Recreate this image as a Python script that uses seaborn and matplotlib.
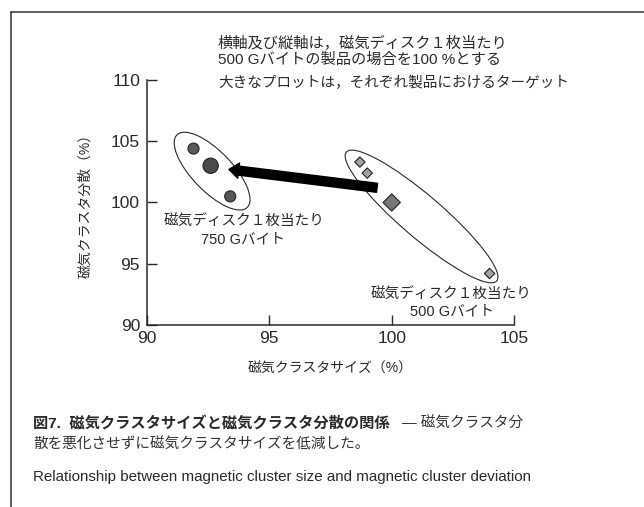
import matplotlib
matplotlib.use('Agg')
import matplotlib.pyplot as plt
import seaborn as sns
import pandas as pd
from matplotlib.patches import Ellipse
from matplotlib.transforms import IdentityTransform
from matplotlib.lines import Line2D

# ---- データ----
size_750 = [91.9, 92.6, 93.4]          # 磁気クラスタサイズ (%)
disp_750 = [104.4, 103.0, 100.5]       # 磁気クラスタ分散 (%)
target_750 = [False, True, False]

size_500 = [98.7, 99.0, 100.0, 104.0]
disp_500 = [103.3, 102.4, 100.0, 94.2]
target_500 = [False, False, True, False]

x_ticks = [90, 95, 100, 105]
y_ticks = [90, 95, 100, 105, 110]

kinds = (['750_t' if t else '750' for t in target_750] +
         ['500_t' if t else '500' for t in target_500])
df = pd.DataFrame({'size': size_750 + size_500,
                   'disp': disp_750 + disp_500,
                   'kind': kinds})

sns.set_theme(style='white')
plt.rcParams['font.family'] = ['Liberation Sans', 'Noto Sans CJK JP', 'DejaVu Sans']
ink = '#2a2a2a'

fig = plt.figure(figsize=(6.44, 5.07), dpi=100)
ax = fig.add_axes([0.2283, 0.359, 0.5699, 0.4832])

sns.scatterplot(
    data=df, x='size', y='disp',
    hue='kind', style='kind', size='kind',
    palette={'750': '#585858', '750_t': '#4a4a4a', '500': '#a2a2a2', '500_t': '#777777'},
    markers={'750': 'o', '750_t': 'o', '500': 'D', '500_t': 'D'},
    sizes={'750': 63, '750_t': 121, '500': 28, '500_t': 78},
    edgecolor='#222222', linewidth=0.8, legend=False, ax=ax, zorder=3
)

ax.set_xlim(90, 105)
ax.set_ylim(90, 110)
ax.set_xticks(x_ticks)
ax.set_yticks(y_ticks)
ax.tick_params(left=True, bottom=True, direction='in', length=7, width=1,
               colors=ink, labelsize=12.5, pad=5)
ax.tick_params(axis='x', pad=4)
for s in ['top', 'right']:
    ax.spines[s].set_visible(False)
for s in ['left', 'bottom']:
    ax.spines[s].set_color(ink)
    ax.spines[s].set_linewidth(1.1)

ax.set_xlabel('磁気クラスタサイズ（%）', fontsize=10, color=ink)
ax.set_ylabel('磁気クラスタ分散（%）', fontsize=10, color=ink)
ax.xaxis.set_label_coords(0.5, -0.15)
ax.yaxis.set_label_coords(-0.15, 0.5)

# ---- グループを囲む楕円（ピクセル単位で指定）----
def px_ellipse(center, w, h, angle):
    cx, cy = ax.transData.transform(center)
    e = Ellipse((cx, cy), w, h, angle=angle, transform=IdentityTransform(),
                fill=False, edgecolor=ink, linewidth=0.8, zorder=2)
    ax.add_patch(e)

px_ellipse((92.66, 102.56), 101, 40, -46)
px_ellipse((101.22, 98.86), 198, 42, -40.6)

# ---- 矢印 ----
ax.annotate('', xy=(93.35, 102.7), xytext=(99.4, 101.2),
            arrowprops=dict(arrowstyle='simple,tail_width=0.65,head_width=1.1,head_length=0.7',
                            mutation_scale=10, color='black', shrinkA=0, shrinkB=0),
            zorder=4)

# ---- 注記 ----
W, H = 644, 507
def ftxt(x, y, s, **kw):
    kw.setdefault('fontsize', 10.5)
    kw.setdefault('color', ink)
    return fig.text(x / W, 1 - y / H, s, va='center', **kw)

ftxt(218, 43, '横軸及び縦軸は，磁気ディスク１枚当たり', fontsize=11)
ftxt(218, 59, '500 Gバイトの製品の場合を100 %とする', fontsize=11)
ftxt(218, 83, '大きなプロットは，それぞれ製品におけるターゲット')

ftxt(244, 221, '磁気ディスク１枚当たり', ha='center')
ftxt(243, 240, '750 Gバイト', ha='center')
ftxt(451, 294, '磁気ディスク１枚当たり', ha='center')
ftxt(452, 312, '500 Gバイト', ha='center')

# ---- キャプション ----
c1 = ftxt(33, 424, '図7.  磁気クラスタサイズと磁気クラスタ分散の関係', fontsize=11, weight='bold')
fig.canvas.draw()
x_end = c1.get_window_extent().x1
fig.text((x_end + 12) / W, 1 - 424 / H, '— 磁気クラスタ分', fontsize=10.5, color='#333333', va='center')
ftxt(33, 445, '散を悪化させずに磁気クラスタサイズを低減した。', color='#333333')
ftxt(33, 477, 'Relationship between magnetic cluster size and magnetic cluster deviation', fontsize=10.9)

# ---- 外枠 ----
fig.add_artist(Line2D([11 / W, 11 / W], [0, 1 - 12 / H], color='#333333', linewidth=1.1))
fig.add_artist(Line2D([11 / W, 1], [1 - 12 / H, 1 - 12 / H], color='#333333', linewidth=1.1))

fig.savefig('out.png', dpi=100)
